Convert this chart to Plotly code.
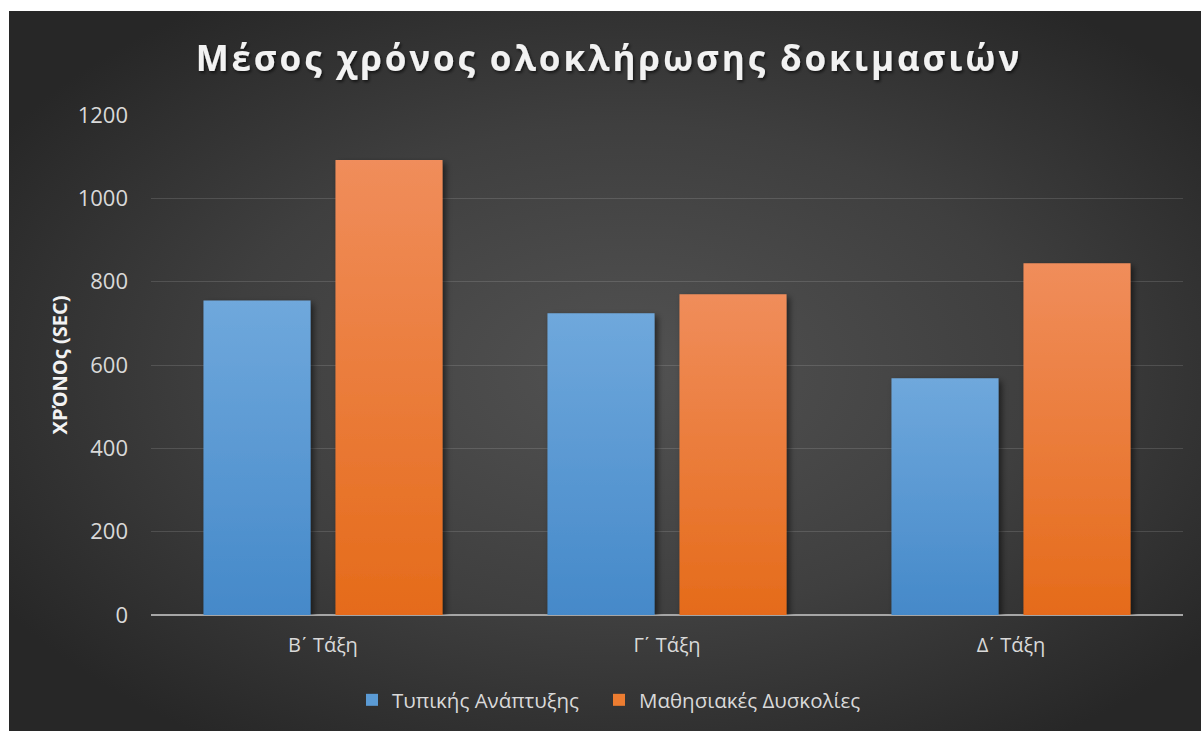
import base64
import plotly.graph_objects as go

categories = ["Β΄ Τάξη", "Γ΄ Τάξη", "Δ΄ Τάξη"]
typical = [755, 724, 568]
difficulties = [1092, 770, 844]
series_names = ["Τυπικής Ανάπτυξης", "Μαθησιακές Δυσκολίες"]
y_ticks = [0, 200, 400, 600, 800, 1000, 1200]

FONT = "Open Sans"
W, H = 1201, 731
L, R, T, B = 151, 18, 115, 116
pw, ph = W - L - R, H - T - B

# render the spacing tonos in a font where it has its own advance
tick_text = [c.replace("΄", "<span style='font-family:Liberation Sans'>΄</span>")
             for c in categories]

bg_svg = (
    '<svg xmlns="http://www.w3.org/2000/svg" width="1192" height="720" '
    'viewBox="0 0 1192 720" preserveAspectRatio="none">'
    '<defs><radialGradient id="g" cx="0.52" cy="0.5" r="0.62">'
    '<stop offset="0" stop-color="#525252"/>'
    '<stop offset="0.55" stop-color="#3f3f3f"/>'
    '<stop offset="1" stop-color="#272727"/>'
    '</radialGradient></defs>'
    '<rect width="1192" height="720" fill="url(#g)"/></svg>'
)
bg_uri = "data:image/svg+xml;base64," + base64.b64encode(bg_svg.encode()).decode()

fig = go.Figure()
fig.add_trace(go.Bar(x=categories, y=typical, name=series_names[0], legend="legend",
                     marker=dict(color="#5b9bd5", line=dict(width=0))))
fig.add_trace(go.Bar(x=categories, y=difficulties, name=series_names[1], legend="legend2",
                     marker=dict(color="#ed7d31", line=dict(width=0))))

x0 = (9 - L) / pw
x1 = (W - L) / pw
y0 = (T + ph - 11) / ph
y1 = (T + ph - H) / ph

leg_common = dict(orientation="h", xref="container", yref="container",
                  xanchor="left", y=1 - 700 / H, yanchor="middle",
                  font=dict(family=FONT, size=20.5, color="#d9d9d9"),
                  bgcolor="rgba(0,0,0,0)", itemclick=False)

fig.update_layout(
    width=W, height=H,
    margin=dict(l=L, r=R, t=T, b=B),
    paper_bgcolor="white",
    plot_bgcolor="rgba(0,0,0,0)",
    barmode="group",
    bargap=0.2326,
    bargroupgap=0.189,
    images=[dict(source=bg_uri, xref="paper", yref="paper",
                 x=x0, y=y0, sizex=x1 - x0, sizey=y0 - y1,
                 xanchor="left", yanchor="top", sizing="stretch",
                 layer="below")],
    title=dict(text="<b>Μέσος χρόνος ολοκλήρωσης δοκιμασιών</b>",
               font=dict(family=FONT, size=35, color="#f2f2f2"),
               x=0.507, xref="container", xanchor="center",
               y=1 - 59 / H, yref="container", yanchor="middle"),
    font=dict(family=FONT, color="#d9d9d9"),
    showlegend=True,
    legend=dict(leg_common, x=352 / W),
    legend2=dict(leg_common, x=599 / W),
    xaxis=dict(showgrid=False, showline=False, zeroline=False,
               tickvals=categories, ticktext=tick_text,
               ticks="", ticklabelstandoff=16,
               tickfont=dict(family=FONT, size=20, color="#d9d9d9")),
    yaxis=dict(range=[0, 1200], tickvals=y_ticks,
               showgrid=True, gridcolor="rgba(255,255,255,0.13)", gridwidth=1,
               zeroline=True, zerolinecolor="#a6a6a6", zerolinewidth=2,
               showline=False, ticks="", ticklabelstandoff=22,
               tickfont=dict(family=FONT, size=22, color="#d9d9d9"),
               title=dict(text="<b>ΧΡΌΝΟς (SEC)</b>", standoff=4,
                          font=dict(family=FONT, size=20, color="#f2f2f2"))),
)

post = r"""
document.body.style.margin = '0';
document.body.style.padding = '0';
var gd = document.getElementById('{plot_id}');
function styleIt(){
  var svg = gd.querySelector('svg.main-svg');
  if(!svg) return;
  var defs = svg.querySelector('defs');
  if(!document.getElementById('gBlueX')){
    var s = '';
    s += '<linearGradient id="gBlueX" x1="0" y1="0" x2="0" y2="1">'
       + '<stop offset="0" stop-color="#6fa8dc"/><stop offset="1" stop-color="#4589c9"/></linearGradient>';
    s += '<linearGradient id="gOrX" x1="0" y1="0" x2="0" y2="1">'
       + '<stop offset="0" stop-color="#f08d5b"/><stop offset="1" stop-color="#e56b1a"/></linearGradient>';
    s += '<filter id="bShadowX" x="-20%" y="-20%" width="150%" height="150%">'
       + '<feDropShadow dx="3" dy="3" stdDeviation="3" flood-color="#000" flood-opacity="0.55"/></filter>';
    s += '<filter id="tShadowX" x="-10%" y="-30%" width="120%" height="170%">'
       + '<feDropShadow dx="1.5" dy="2" stdDeviation="1.5" flood-color="#000" flood-opacity="0.6"/></filter>';
    defs.insertAdjacentHTML('beforeend', s);
  }
  var traces = gd.querySelectorAll('.barlayer .trace');
  var fills = ['url(#gBlueX)', 'url(#gOrX)'];
  traces.forEach(function(t, i){
    t.querySelectorAll('.point path').forEach(function(p){
      p.style.fill = fills[i % 2];
      p.style.filter = 'url(#bShadowX)';
    });
  });
  var tt = gd.querySelector('.gtitle');
  if(tt){ tt.style.letterSpacing = '2.9px'; tt.style.filter = 'url(#tShadowX)'; }
}
styleIt();
gd.on('plotly_afterplot', styleIt);
"""

fig.write_html("out.html", post_script=post, config={"displayModeBar": False})
